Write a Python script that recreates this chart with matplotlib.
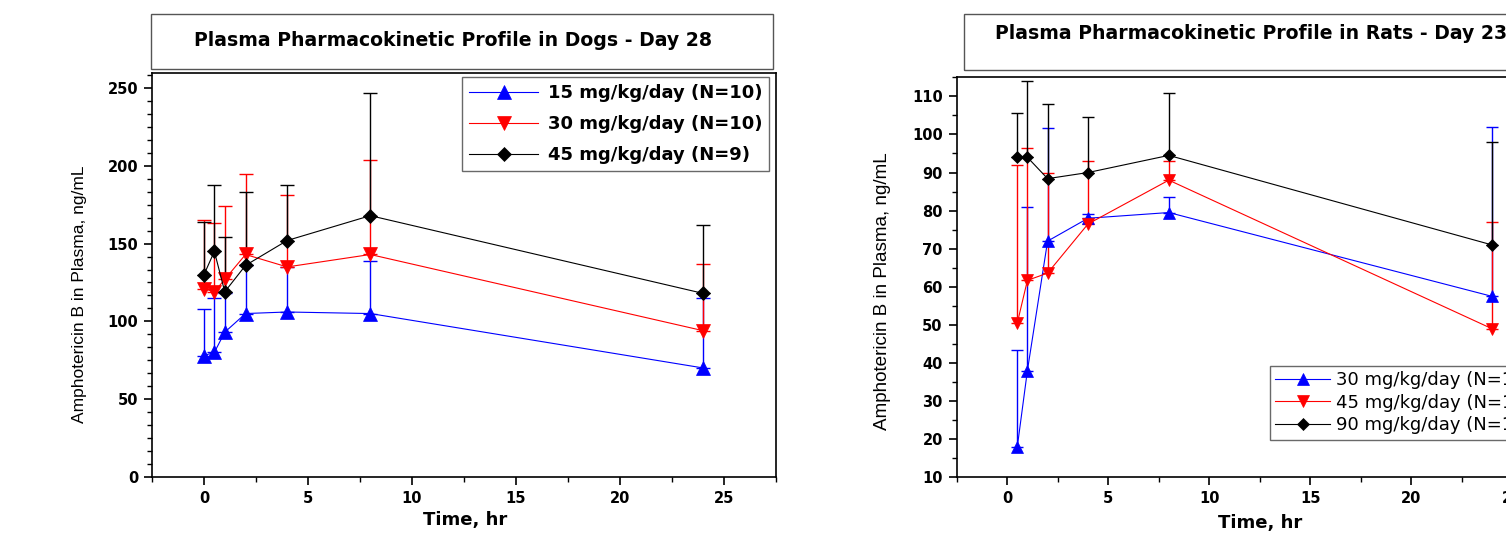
import matplotlib
matplotlib.use('Agg')
import matplotlib.pyplot as plt
from matplotlib.ticker import MultipleLocator
from matplotlib.patches import Rectangle
import numpy as np

# ---------------- Data: Dogs - Day 28 ----------------
dog_time = [0, 0.5, 1, 2, 4, 8, 24]
dog_15_mean = [78, 80, 93, 105, 106, 105, 70]
dog_15_upper = [108, 115, 118, 136, 135, 139, 115]
dog_30_mean = [121, 119, 127, 143, 135, 143, 94]
dog_30_upper = [165, 163, 174, 195, 181, 204, 137]
dog_45_mean = [130, 145, 119, 136, 152, 168, 118]
dog_45_upper = [164, 188, 154, 183, 188, 247, 162]
dog_labels = ["15 mg/kg/day (N=10)", "30 mg/kg/day (N=10)", "45 mg/kg/day (N=9)"]

# ---------------- Data: Rats - Day 23 ----------------
rat_time = [0.5, 1, 2, 4, 8, 24]
rat_30_mean = [18, 38, 72, 78, 79.5, 57.5]
rat_30_upper = [43.5, 81, 101.7, 79, 83.7, 102]
rat_45_mean = [50.5, 61.7, 63.6, 76.5, 88, 49]
rat_45_upper = [92, 96.4, 90, 93, 93, 77]
rat_90_mean = [94, 94, 88.4, 90, 94.5, 71]
rat_90_upper = [105.6, 114, 108, 104.7, 111, 98]
rat_labels = ["30 mg/kg/day (N=10)", "45 mg/kg/day (N=10)", "90 mg/kg/day (N=10)"]

x_ticks = [0, 5, 10, 15, 20, 25]

plt.rcParams['font.family'] = ['DejaVu Sans']

W, H = 1506, 543
fig = plt.figure(figsize=(W / 100, H / 100), dpi=100)
fig.patch.set_facecolor('white')


def fx(px):
    return px / W


def fy(py):
    return 1 - py / H


colors = ['#0000FF', '#FF0000', '#000000']
markers = ['^', 'v', 'D']


def draw(ax, t, means, uppers, labels, msizes, capsize):
    handles = []
    for m, u, lab, c, mk, ms in zip(means, uppers, labels, colors, markers, msizes):
        m = np.array(m, dtype=float)
        u = np.array(u, dtype=float)
        yerr = np.vstack([np.zeros_like(m), u - m])
        ax.errorbar(t, m, yerr=yerr, fmt='none', ecolor=c, elinewidth=1.0,
                    capsize=capsize, capthick=1.0, zorder=2)
        ln, = ax.plot(t, m, color=c, lw=0.8, marker=mk, ms=ms,
                      markerfacecolor=c, markeredgecolor=c, mew=0.5,
                      label=lab, zorder=3)
        handles.append(ln)
    return handles


def style_axes(ax, ymaj, ymin):
    ax.set_xlim(-2.5, 27.5)
    ax.set_xticks(x_ticks)
    ax.xaxis.set_minor_locator(MultipleLocator(2.5))
    ax.yaxis.set_major_locator(MultipleLocator(ymaj))
    ax.yaxis.set_minor_locator(MultipleLocator(ymin))
    ax.tick_params(which='major', direction='out', length=6, width=1.2,
                   labelsize=10.5, pad=4)
    ax.tick_params(which='minor', direction='out', length=3.5, width=1.0)
    ax.tick_params(top=False, right=False)
    for lab in ax.get_xticklabels() + ax.get_yticklabels():
        lab.set_fontweight('bold')
    for sp in ax.spines.values():
        sp.set_linewidth(1.2)
        sp.set_color('black')


# ---------------- Left: Dogs ----------------
axL = fig.add_axes([fx(152), fy(476.7), fx(775.7 - 152), (476.7 - 72.7) / H])
hL = draw(axL, dog_time,
          [dog_15_mean, dog_30_mean, dog_45_mean],
          [dog_15_upper, dog_30_upper, dog_45_upper],
          dog_labels, [9.5, 9.5, 7], 5)
axL.set_ylim(0, 260)
style_axes(axL, 50, 50 / 6)
legL = fig.legend(handles=hL, loc='upper left', bbox_to_anchor=(fx(462), fy(76.7)),
                  bbox_transform=fig.transFigure, borderaxespad=0,
                  prop={'weight': 'bold', 'size': 13}, handlelength=3.8,
                  handletextpad=0.55, labelspacing=0.72, borderpad=0.4,
                  frameon=True, fancybox=False, edgecolor='#444444')
legL.get_frame().set_linewidth(1.0)

fig.add_artist(Rectangle((fx(151), fy(69)), fx(773 - 151), (69 - 14) / H,
                         transform=fig.transFigure, fill=False,
                         edgecolor='#555555', lw=1.0))
fig.text(fx(452.5), fy(40), "Plasma Pharmacokinetic Profile in Dogs - Day 28",
         ha='center', va='center', fontsize=13.6, fontweight='bold')
fig.text(fx(80), fy(294), "Amphotericin B in Plasma, ng/mL", rotation=90,
         ha='center', va='center', fontsize=12.5, family=['Liberation Sans', 'DejaVu Sans'])
fig.text(fx(465), fy(520), "Time, hr", ha='center', va='center',
         fontsize=13, fontweight='bold')

# ---------------- Right: Rats ----------------
axR = fig.add_axes([fx(956.7), fy(477.3), fx(606), (477.3 - 77.3) / H])
hR = draw(axR, rat_time,
          [rat_30_mean, rat_45_mean, rat_90_mean],
          [rat_30_upper, rat_45_upper, rat_90_upper],
          rat_labels, [9, 9, 6.5], 4)
axR.set_ylim(10, 115)
style_axes(axR, 10, 5)
legR = fig.legend(handles=hR, loc='upper left', bbox_to_anchor=(fx(1270), fy(365.7)),
                  bbox_transform=fig.transFigure, borderaxespad=0,
                  prop={'size': 13}, handlelength=3.0,
                  handletextpad=0.35, labelspacing=0.25, borderpad=0.3,
                  frameon=True, fancybox=False, edgecolor='#444444')
legR.get_frame().set_linewidth(1.0)

fig.add_artist(Rectangle((fx(964), fy(70)), fx(700), (70 - 14) / H,
                         transform=fig.transFigure, fill=False,
                         edgecolor='#555555', lw=1.0))
fig.text(fx(995), fy(33.3), "Plasma Pharmacokinetic Profile in Rats - Day 23",
         ha='left', va='center', fontsize=13.6, fontweight='bold')
fig.text(fx(882.5), fy(291), "Amphotericin B in Plasma, ng/mL", rotation=90,
         ha='center', va='center', fontsize=13.6, family=['Liberation Sans', 'DejaVu Sans'])
fig.text(fx(1260), fy(523), "Time, hr", ha='center', va='center',
         fontsize=13, fontweight='bold')

fig.savefig('out.png', dpi=100)
